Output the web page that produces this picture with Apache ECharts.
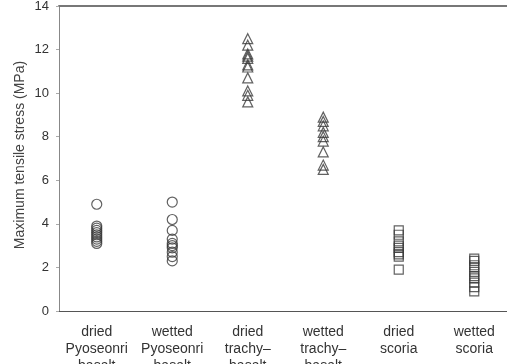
<!DOCTYPE html>
<html>
<head>
<meta charset="utf-8">
<script src="https://cdn.jsdelivr.net/npm/echarts@6/dist/echarts.min.js"></script>
<style>html,body{margin:0;padding:0;background:#fff}#c{width:507px;height:364px}</style>
</head>
<body>
<div id="c"></div>
<script>
var categories = ["dried\nPyoseonri\nbasalt", "wetted\nPyoseonri\nbasalt", "dried\ntrachy–\nbasalt", "wetted\ntrachy–\nbasalt", "dried\nscoria", "wetted\nscoria"];
var yTicks = [0, 2, 4, 6, 8, 10, 12, 14];
var driedPyoseonri = [4.9, 3.9, 3.8, 3.7, 3.6, 3.5, 3.4, 3.3, 3.2, 3.1];
var wettedPyoseonri = [5.0, 4.2, 3.7, 3.3, 3.1, 3.0, 2.9, 2.7, 2.5, 2.3];
var driedTrachy = [12.5, 12.2, 11.8, 11.7, 11.6, 11.3, 11.2, 10.7, 10.1, 9.9, 9.6];
var wettedTrachy = [8.9, 8.7, 8.5, 8.2, 8.0, 7.8, 7.3, 6.7, 6.5];
var driedScoria = [3.7, 3.5, 3.2, 3.0, 2.9, 2.7, 2.6, 2.5, 1.9];
var wettedScoria = [2.4, 2.3, 2.1, 2.0, 1.8, 1.6, 1.5, 1.3, 1.1, 0.9];
var yTitle = "Maximum tensile stress (MPa)";

function pts(idx, arr){ return arr.map(function(v){ return [idx, v]; }); }
var groups = [
  {d: driedPyoseonri, s: 'circle', size: 10},
  {d: wettedPyoseonri, s: 'circle', size: 10},
  {d: driedTrachy, s: 'triangle', size: 10},
  {d: wettedTrachy, s: 'triangle', size: 10},
  {d: driedScoria, s: 'rect', size: 9},
  {d: wettedScoria, s: 'rect', size: 9}
];
var series = groups.map(function(g, i){
  return {
    type: 'scatter', data: pts(i, g.d), symbol: g.s, symbolSize: g.size,
    itemStyle: {color: 'rgba(255,255,255,0)', borderColor: '#3a3a3a', borderWidth: 1.2},
    silent: true, animation: false
  };
});
var font = 'Liberation Sans, Arial, sans-serif';
var chart = echarts.init(document.getElementById('c'), null, {renderer: 'canvas'});
chart.setOption({
  animation: false,
  grid: {left: 59, top: 6, width: 453, height: 305, outerBoundsMode: 'none', containLabel: false},
  xAxis: [{
    type: 'category', data: categories, boundaryGap: true,
    axisLine: {lineStyle: {color: '#555', width: 1}},
    axisTick: {inside: true, length: 3, alignWithLabel: false, lineStyle: {color: '#999'}},
    axisLabel: {color: '#333', fontSize: 14, fontFamily: font, lineHeight: 17, margin: 13, interval: 0},
    splitLine: {show: false}
  }, {
    type: 'category', data: categories, position: 'top',
    axisLine: {show: true, lineStyle: {color: '#777', width: 2}},
    axisTick: {show: false}, axisLabel: {show: false}
  }],
  yAxis: {
    type: 'value', min: yTicks[0], max: yTicks[yTicks.length - 1], interval: 2,
    axisLine: {show: true, lineStyle: {color: '#888', width: 1}},
    axisTick: {show: true, length: 3, lineStyle: {color: '#aaa'}},
    axisLabel: {color: '#333', fontSize: 13, fontFamily: font, margin: 10},
    splitLine: {show: false}
  },
  graphic: [{
    type: 'text',
    rotation: Math.PI / 2,
    x: 20, y: 155,
    style: {text: yTitle, fill: '#444', font: '14px ' + font, align: 'center', verticalAlign: 'middle'}
  }],
  series: series
});
</script>
</body>
</html>
